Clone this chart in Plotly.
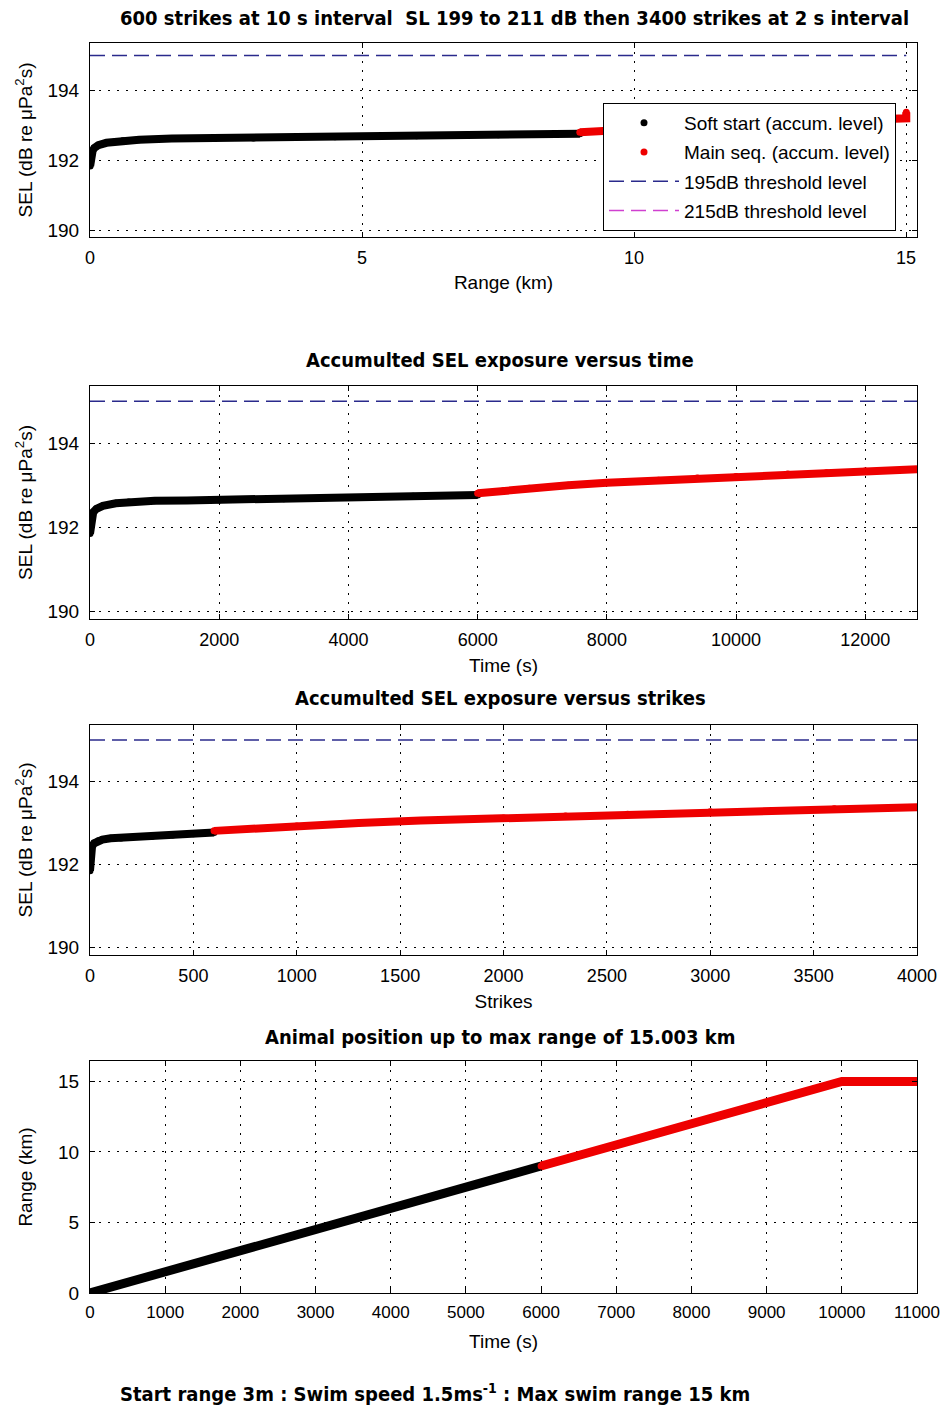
import plotly.graph_objects as go

# ---------------- data ----------------
soft_strikes = [0, 1, 2, 3, 5, 10, 20, 40, 60, 100, 150, 200, 300, 400, 500, 600]
soft_time_s = [0, 10, 20, 30, 50, 100, 200, 400, 600, 1000, 1500, 2000, 3000, 4000, 5000, 6000]
soft_range_km = [0.003, 0.018, 0.033, 0.048, 0.078, 0.153, 0.303, 0.603, 0.903, 1.503,
                 2.253, 3.003, 4.503, 6.003, 7.503, 9.003]
soft_sel = [191.85, 192.1, 192.2, 192.28, 192.36, 192.44, 192.51, 192.57, 192.6, 192.63,
            192.64, 192.65, 192.68, 192.71, 192.74, 192.77]

main_strikes = [600, 800, 1000, 1300, 1600, 2000, 2300, 2600, 3000, 3300, 3600, 4000]
main_time_s = [6000, 6400, 6800, 7400, 8000, 8800, 9400, 10000, 10800, 11400, 12000, 12800]
main_range_km = [9.003, 9.603, 10.203, 11.103, 12.003, 13.203, 14.103, 15.003,
                 15.003, 15.003, 15.003, 15.003]
main_sel = [192.81, 192.87, 192.93, 193.0, 193.06, 193.12, 193.17, 193.21,
            193.27, 193.3, 193.34, 193.38]

threshold_195 = 195
threshold_215 = 215

titles = [
    "600 strikes at 10 s interval  SL 199 to 211 dB then 3400 strikes at 2 s interval",
    "Accumulted SEL exposure versus time",
    "Accumulted SEL exposure versus strikes",
    "Animal position up to max range of 15.003 km",
]
footer = "Start range 3m : Swim speed 1.5ms<sup>-1</sup> : Max swim range 15 km"

# ---------------- layout helpers ----------------
W, H = 946, 1407
BLACK = "#000000"
RED = "#ee0000"
NAVY = "#2a2a8c"
MAGENTA = "#d040d0"
SANS = "Liberation Sans, Arial, sans-serif"
YTICKFONT = dict(family=SANS, size=19, color="black")
XTICKFONT = dict(family=SANS, size=18, color="black")
AXTITLEFONT = dict(family=SANS, size=19, color="black")
TITLEFONT = dict(family="DejaVu Sans Condensed, Liberation Sans Narrow, sans-serif",
                 size=20, color="black", weight="bold")


def px(xp):
    return xp / W


def py(yp):
    return 1 - yp / H


def ydom(top_px, bottom_px):
    return [py(bottom_px), py(top_px)]


XDOM = [px(90), px(917)]
panels = [ydom(43, 237), ydom(386, 619), ydom(725, 955), ydom(1061, 1293)]

fig = go.Figure()


def add_series(xs_soft, ys_soft, xs_main, ys_main, ax, legend=False, lw=8):
    xa = "x" if ax == 1 else f"x{ax}"
    ya = "y" if ax == 1 else f"y{ax}"
    fig.add_trace(go.Scatter(x=xs_soft, y=ys_soft, mode="lines", line=dict(color=BLACK, width=lw),
                             xaxis=xa, yaxis=ya, showlegend=False, hoverinfo="skip"))
    fig.add_trace(go.Scatter(x=xs_soft, y=ys_soft, mode="markers",
                             marker=dict(color=BLACK, size=7, symbol="circle"),
                             xaxis=xa, yaxis=ya, name="Soft start (accum. level)",
                             legendgroup="a", showlegend=legend))
    fig.add_trace(go.Scatter(x=xs_main, y=ys_main, mode="lines", line=dict(color=RED, width=lw),
                             xaxis=xa, yaxis=ya, showlegend=False, hoverinfo="skip"))
    fig.add_trace(go.Scatter(x=xs_main, y=ys_main, mode="markers",
                             marker=dict(color=RED, size=7, symbol="circle"),
                             xaxis=xa, yaxis=ya, name="Main seq. (accum. level)",
                             legendgroup="b", showlegend=legend))


def add_threshold(xmax, ax, legend=False):
    xa = "x" if ax == 1 else f"x{ax}"
    ya = "y" if ax == 1 else f"y{ax}"
    fig.add_trace(go.Scatter(x=[0, xmax], y=[threshold_195, threshold_195], mode="lines",
                             line=dict(color=NAVY, width=1.5, dash="15px,7px"),
                             xaxis=xa, yaxis=ya, name="195dB threshold level",
                             legendgroup="c", showlegend=legend))
    fig.add_trace(go.Scatter(x=[0, xmax], y=[threshold_215, threshold_215], mode="lines",
                             line=dict(color=MAGENTA, width=1.5, dash="15px,7px"),
                             xaxis=xa, yaxis=ya, name="215dB threshold level",
                             legendgroup="d", showlegend=legend))


# Panel 1: SEL vs range
add_series(soft_range_km, soft_sel, main_range_km, main_sel, 1, legend=True)
add_threshold(max(main_range_km), 1, legend=True)
# Panel 2: SEL vs time
add_series(soft_time_s, soft_sel, main_time_s, main_sel, 2)
add_threshold(max(main_time_s), 2)
# Panel 3: SEL vs strikes
add_series(soft_strikes, soft_sel, main_strikes, main_sel, 3)
add_threshold(max(main_strikes), 3)
# Panel 4: range vs time
add_series(soft_time_s, soft_range_km, main_time_s, main_range_km, 4, lw=9)

axis_common = dict(
    showline=True, linecolor="black", linewidth=1, mirror="ticks",
    ticks="inside", ticklen=5, tickcolor="black", tickwidth=1,
    showgrid=True, gridcolor="black", gridwidth=1.3, griddash="2px,7px",
    zeroline=False, automargin=False, tickformat="d",
    title_font=AXTITLEFONT,
)

xcfg = [
    dict(range=[0, 15.2], tickvals=[0, 5, 10, 15], title_text="Range (km)", tickfont=XTICKFONT,
         title_standoff=9),
    dict(range=[0, 12800], tickvals=list(range(0, 12001, 2000)), title_text="Time (s)",
         tickfont=XTICKFONT, title_standoff=10),
    dict(range=[0, 4000], tickvals=list(range(0, 4001, 500)), title_text="Strikes",
         tickfont=XTICKFONT, title_standoff=10),
    dict(range=[0, 11000], tickvals=list(range(0, 11001, 1000)), title_text="Time (s)",
         tickfont=dict(family=SANS, size=17, color="black"), title_standoff=13),
]
sel_label = "SEL (dB re \u03bcPa<sup>2</sup>s)"
ycfg = [
    dict(range=[189.82, 195.36], tickvals=[190, 192, 194], title_text=sel_label, title_standoff=9),
    dict(range=[189.82, 195.36], tickvals=[190, 192, 194], title_text=sel_label, title_standoff=9),
    dict(range=[189.82, 195.36], tickvals=[190, 192, 194], title_text=sel_label, title_standoff=9),
    dict(range=[0, 16.45], tickvals=[0, 5, 10, 15], title_text="Range (km)", title_standoff=20),
]

layout = dict(
    width=W, height=H, paper_bgcolor="white", plot_bgcolor="white",
    margin=dict(l=0, r=0, t=0, b=0, autoexpand=False),
    showlegend=True,
    legend=dict(
        x=px(603), y=py(103), xanchor="left", yanchor="top",
        bgcolor="white", bordercolor="black", borderwidth=1,
        font=dict(family=SANS, size=19, color="black"),
        tracegroupgap=1.5, itemwidth=70,
    ),
)
for i in range(4):
    k = "" if i == 0 else str(i + 1)
    layout[f"xaxis{k}"] = dict(domain=XDOM, anchor=f"y{k}", ticklabelstandoff=4,
                               **axis_common, **xcfg[i])
    layout[f"yaxis{k}"] = dict(domain=panels[i], anchor=f"x{k}", ticklabelstandoff=6,
                               tickfont=YTICKFONT, **axis_common, **ycfg[i])
fig.update_layout(**layout)

# Titles as annotations
title_y_px = [18, 360, 698, 1037]
title_x_px = [514, 500, 500, 500]
for t, ypx, xpx in zip(titles, title_y_px, title_x_px):
    fig.add_annotation(text=t, x=px(xpx), y=py(ypx), xref="paper", yref="paper",
                       showarrow=False, xanchor="center", yanchor="middle", font=TITLEFONT)
fig.add_annotation(text=footer, x=px(118), y=py(1393), xref="paper", yref="paper",
                   showarrow=False, xanchor="left", yanchor="middle", font=TITLEFONT)

page_css = ("document.body.style.margin='0px';"
            "document.body.style.overflow='hidden';"
            "document.documentElement.style.overflow='hidden';")
fig.write_html("out.html", post_script=page_css, config={"displayModeBar": False})
